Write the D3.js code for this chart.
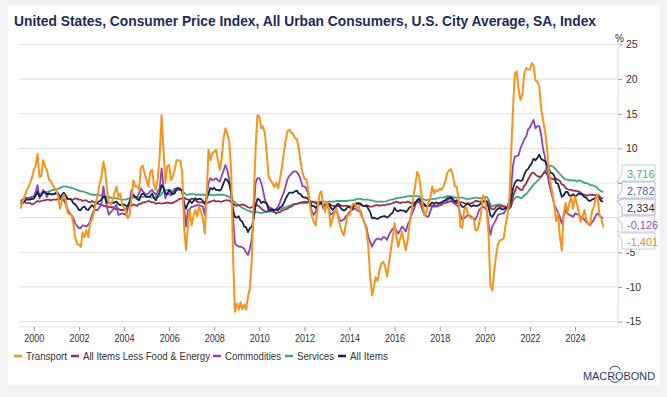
<!DOCTYPE html>
<html>
<head>
<meta charset="utf-8">
<script src="https://cdn.jsdelivr.net/npm/d3@7"></script>
<style>
  html, body { margin: 0; padding: 0; background: #f2f2f2; }
  svg { display: block; }
  text { font-family: "Liberation Sans Narrow", "Arial Narrow", "Liberation Sans", Arial, sans-serif; }
</style>
</head>
<body>
<svg id="chart" width="667" height="397"></svg>
<script>
// monthly y/y % changes, first point June 1999, last point April 2025
const firstMonth = new Date(1999, 5, 1);

const transport = [
  1.3, 2.2, 3.0, 3.8, 4.3, 5.0, 5.7,
  6.9, 7.5, 9.2, 5.9, 6.0, 8.3, 7.4, 6.9, 5.5, 5.3, 4.7, 4.3,
  4.0, 3.0, 1.3, 2.5, 3.3, 2.5, 0.7, 0.5, 0.4, -0.8, -2.8, -3.8,
  -3.9, -4.2, -2.2, -2.8, -1.8, -2.8, -0.8, -0.3, 0.8, 2.1, 3.3, 4.8,
  5.9, 8.1, 6.9, 4.0, 2.1, 1.9, 2.5, 3.5, 4.5, 3.0, 3.5, 1.9,
  1.4, 0.9, -0.1, 0.4, 2.8, 5.4, 4.5, 4.5, 4.0, 7.2, 7.5, 6.3,
  5.4, 4.5, 6.6, 6.9, 4.7, 4.0, 5.7, 8.8, 14.8, 9.8, 5.0, 7.4,
  7.6, 5.4, 6.0, 6.9, 8.3, 8.3, 8.2, 6.5, -1.3, -4.7, -1.3, 1.1,
  -1.1, 0.4, 1.1, 0.2, 1.6, 0.8, -0.1, -2.3, 3.0, 9.8, 8.3, 9.3,
  9.5, 9.8, 8.3, 6.9, 8.5, 11.5, 12.9, 12.1, 10.9, 7.0, -5.5, -13.6,
  -12.4, -13.3, -12.2, -13.2, -12.5, -13.3, -11.4, -10.2, -6.1, 2.5, 9.8, 14.8,
  14.6, 12.9, 13.2, 12.1, 9.3, 5.9, 5.4, 5.0, 4.4, 5.0, 4.2, 5.6,
  7.2, 9.3, 11.0, 12.5, 12.7, 12.3, 12.1, 11.5, 11.3, 10.0, 8.0, 6.5,
  5.6, 5.5, 4.2, 1.8, 0.2, -0.6, -1.1, 1.2, 3.3, 3.8, 1.8, 0.8,
  2.3, 1.1, -1.3, -0.1, 0.6, 1.3, 0.1, -1.2, -2.0, -2.6, -1.0, 0.5,
  0.3, 1.5, 2.0, 2.0, 1.3, 1.6, 0.4, -0.1, -0.8, -1.8, -4.2, -8.5,
  -11.2, -10.0, -8.6, -9.1, -7.6, -6.6, -6.4, -7.1, -8.5, -6.6, -4.7, -2.8,
  -0.8, -2.8, -4.2, -3.0, -2.0, -3.5, -4.7, -3.2, -0.8, 0.9, 3.0, 4.7,
  6.6, 6.0, 4.0, 1.8, 0.3, 0.9, 2.1, 2.8, 4.5, 3.5, 4.0, 3.8,
  4.2, 4.0, 4.5, 5.2, 6.4, 6.8, 7.0, 6.2, 4.5, 4.5, 2.8, -1.3,
  -1.5, 1.1, 1.6, 0.6, 0.1, -0.1, 0.0, -1.8, -1.8, -0.9, 0.6, 3.2,
  2.8, 1.1, -2.3, -9.8, -10.5, -7.8, -5.5, -3.8, -3.3, -3.2, -3.0, -1.2,
  0.3, 2.6, 9.0, 15.5, 20.8, 21.1, 18.5, 17.0, 17.8, 20.8, 21.6, 21.4,
  21.4, 22.3, 22.0, 19.8, 19.6, 19.0, 15.8, 14.1, 12.6, 10.5, 7.0, 5.0,
  3.5, 1.6, -0.5, 0.6, -2.8, -4.7, 0.5, 2.1, 0.8, 2.1, 3.0, 1.3,
  3.0, 2.0, 0.8, -0.6, 0.1, 1.1, -0.3, -0.8, -1.0, 0.8, 1.6, 2.8,
  3.3, 0.2, 0.0, -1.401
];

const core = [
  2.1, 2.1, 2.3, 2.1, 2.1, 2.1, 1.9,
  2.0, 2.2, 2.4, 2.3, 2.4, 2.5, 2.5, 2.6, 2.6, 2.5, 2.6, 2.6,
  2.6, 2.7, 2.7, 2.6, 2.5, 2.7, 2.7, 2.7, 2.6, 2.6, 2.8, 2.7,
  2.6, 2.6, 2.4, 2.5, 2.5, 2.3, 2.2, 2.4, 2.2, 2.2, 2.0, 1.9,
  1.9, 1.7, 1.7, 1.5, 1.6, 1.5, 1.5, 1.3, 1.2, 1.3, 1.1, 1.1,
  1.1, 1.2, 1.6, 1.8, 1.7, 1.9, 1.8, 1.7, 2.0, 2.0, 2.2, 2.2,
  2.3, 2.4, 2.3, 2.2, 2.2, 2.0, 2.1, 2.1, 2.0, 2.1, 2.1, 2.2,
  2.1, 2.1, 2.1, 2.3, 2.4, 2.6, 2.7, 2.8, 2.9, 2.7, 2.6, 2.6,
  2.7, 2.7, 2.5, 2.3, 2.2, 2.2, 2.2, 2.1, 2.1, 2.2, 2.3, 2.4,
  2.5, 2.3, 2.4, 2.3, 2.3, 2.4, 2.5, 2.5, 2.5, 2.2, 2.0, 1.8,
  1.7, 1.8, 1.8, 1.9, 1.8, 1.7, 1.5, 1.4, 1.5, 1.7, 1.7, 1.8,
  1.6, 1.3, 1.1, 0.9, 0.9, 0.9, 0.9, 0.9, 0.8, 0.6, 0.8, 0.8,
  1.0, 1.1, 1.2, 1.3, 1.5, 1.6, 1.8, 2.0, 2.0, 2.1, 2.2, 2.2,
  2.3, 2.2, 2.3, 2.3, 2.3, 2.2, 2.1, 1.9, 2.0, 2.0, 1.9, 1.9,
  1.9, 2.0, 1.9, 1.7, 1.7, 1.6, 1.7, 1.8, 1.7, 1.7, 1.7, 1.7,
  1.6, 1.6, 1.7, 1.8, 2.0, 1.9, 1.9, 1.7, 1.7, 1.8, 1.7, 1.6,
  1.6, 1.7, 1.8, 1.8, 1.7, 1.8, 1.8, 1.8, 1.9, 1.9, 2.0, 2.1,
  2.2, 2.3, 2.2, 2.1, 2.2, 2.2, 2.2, 2.3, 2.2, 2.1, 2.1, 2.2,
  2.3, 2.2, 2.0, 1.9, 1.7, 1.7, 1.7, 1.7, 1.7, 1.8, 1.7, 1.8,
  1.8, 1.8, 2.1, 2.1, 2.2, 2.3, 2.4, 2.2, 2.2, 2.1, 2.2, 2.2,
  2.2, 2.1, 2.0, 2.1, 2.0, 2.1, 2.2, 2.4, 2.4, 2.3, 2.3, 2.3,
  2.3, 2.4, 2.1, 1.4, 1.2, 1.2, 1.6, 1.7, 1.7, 1.6, 1.6, 1.6,
  1.4, 1.3, 1.6, 3.0, 3.8, 4.5, 4.3, 4.0, 4.0, 4.6, 4.9, 5.5,
  6.0, 6.4, 6.5, 6.2, 6.0, 5.9, 5.9, 6.3, 6.6, 6.3, 6.0, 5.7,
  5.6, 5.5, 5.6, 5.5, 5.3, 4.8, 4.7, 4.3, 4.1, 4.0, 4.0, 3.9,
  3.9, 3.8, 3.8, 3.6, 3.4, 3.3, 3.2, 3.2, 3.3, 3.3, 3.3, 3.2,
  3.3, 3.1, 2.8, 2.782
];

const commodities = [
  2.3, 2.5, 2.8, 2.9, 2.8, 2.9, 3.0,
  3.0, 3.8, 4.7, 2.8, 3.3, 4.0, 3.6, 3.0, 3.5, 3.4, 3.3, 3.4,
  3.5, 3.2, 2.8, 3.0, 2.6, 1.9, 1.2, 0.7, 0.4, -0.1, -0.8, -1.2,
  -1.5, -1.5, -1.1, -1.2, -1.3, -1.0, -0.6, 0.4, 1.1, 1.1, 1.1, 1.5,
  1.9, 4.5, 2.8, 1.5, 0.4, 0.8, 1.1, 1.5, 1.9, 0.4, 0.5, 0.6,
  0.5, 0.4, 1.2, 2.1, 4.0, 3.0, 3.0, 3.0, 3.5, 4.2, 3.8, 3.5,
  3.3, 3.5, 3.8, 4.0, 3.6, 3.3, 3.8, 4.2, 7.1, 4.5, 2.8, 3.5,
  3.4, 3.2, 3.6, 4.2, 4.0, 4.0, 4.1, 3.8, 1.6, -1.3, 1.1, 1.2,
  1.6, 1.6, 1.7, 1.8, 1.8, 1.7, 1.6, 0.4, 3.2, 5.0, 5.7, 5.4,
  5.5, 5.7, 5.4, 5.2, 6.0, 6.8, 7.6, 6.8, 5.5, 3.5, 0.1, -3.7,
  -4.0, -4.2, -4.2, -4.3, -4.5, -5.0, -5.4, -4.5, -3.0, 0.5, 5.0, 5.7,
  5.7, 5.0, 4.0, 2.6, 2.0, 1.6, 1.4, 1.3, 1.1, 1.2, 1.6, 2.2,
  3.0, 3.6, 4.5, 5.5, 6.0, 6.3, 6.6, 6.7, 6.6, 6.2, 5.5, 4.5,
  4.5, 4.2, 3.5, 2.0, 0.9, 0.4, 0.8, 1.8, 2.3, 2.3, 1.3, 1.5,
  1.8, 1.2, 0.4, 0.6, 0.9, 1.1, 0.3, -0.5, -0.4, -0.3, 0.2, 0.4,
  0.8, 1.1, 1.2, 1.3, 1.1, 0.9, 0.9, -0.1, -0.8, -1.3, -2.8, -3.5,
  -4.2, -3.6, -3.2, -3.0, -3.1, -3.2, -2.8, -2.9, -3.2, -2.5, -2.0, -1.6,
  -1.5, -1.9, -2.3, -1.8, -1.3, -1.6, -2.0, -1.0, -0.5, 0.4, 1.0, 1.8,
  2.5, 2.8, 1.8, 1.0, 0.4, 0.2, 0.1, 0.9, 1.6, 1.6, 1.6, 1.6,
  1.8, 1.9, 2.1, 2.1, 2.5, 2.7, 2.8, 2.3, 2.0, 1.8, 1.6, 0.4,
  -0.3, -0.1, 0.1, 0.4, 0.3, 0.1, -0.1, -0.3, 0.3, 1.1, 1.4, 1.6,
  1.4, 1.1, -0.9, -2.5, -1.3, -0.8, -0.3, 0.4, 0.5, 0.6, 0.6, 1.0,
  1.6, 2.5, 4.0, 7.5, 8.8, 8.9, 9.0, 10.0, 10.7, 11.3, 11.7, 12.7,
  13.0, 13.6, 14.1, 12.9, 13.2, 13.2, 12.0, 10.0, 8.8, 7.0, 5.2, 4.0,
  3.0, 1.8, 1.3, 0.8, 0.1, -0.9, 0.3, 1.1, 0.6, 0.4, 0.3, 0.1,
  0.6, 0.5, 0.4, 0.1, 0.0, -0.3, -0.6, -0.9, -1.1, -0.7, -0.3, 0.3,
  0.6, 0.3, 0.1, -0.126
];

const services = [
  2.5, 2.6, 2.7, 2.8, 2.8, 2.9, 3.0,
  3.1, 3.3, 3.4, 3.4, 3.5, 3.6, 3.6, 3.7, 3.8, 3.9, 4.0, 4.0,
  4.1, 4.2, 4.3, 4.4, 4.5, 4.5, 4.4, 4.4, 4.3, 4.2, 4.1, 4.0,
  3.9, 3.8, 3.8, 3.7, 3.6, 3.5, 3.4, 3.3, 3.3, 3.3, 3.3, 3.2,
  3.2, 3.2, 3.1, 3.0, 3.0, 2.9, 2.8, 2.8, 2.8, 2.7, 2.7, 2.6,
  2.6, 2.6, 2.7, 2.8, 2.9, 2.9, 2.9, 2.9, 2.9, 3.0, 3.0, 3.0,
  3.0, 3.0, 2.9, 2.9, 2.9, 3.0, 3.0, 3.1, 3.4, 3.8, 3.9, 4.0,
  4.0, 3.9, 3.8, 3.8, 3.9, 4.0, 4.0, 3.9, 3.6, 3.3, 3.3, 3.4,
  3.4, 3.4, 3.3, 3.3, 3.3, 3.3, 3.3, 3.3, 3.3, 3.3, 3.3, 3.3,
  3.2, 3.3, 3.3, 3.3, 3.3, 3.3, 3.2, 3.1, 3.0, 2.8, 2.5, 2.2,
  2.0, 1.8, 1.6, 1.4, 1.3, 1.1, 1.0, 0.9, 0.8, 0.8, 0.8, 0.8,
  0.7, 0.7, 0.7, 0.8, 0.8, 0.9, 1.0, 1.0, 1.1, 1.1, 1.2, 1.2,
  1.3, 1.4, 1.5, 1.6, 1.7, 1.8, 1.9, 1.9, 2.0, 2.0, 2.1, 2.1,
  2.1, 2.1, 2.2, 2.3, 2.3, 2.3, 2.3, 2.2, 2.2, 2.3, 2.3, 2.3,
  2.3, 2.3, 2.3, 2.3, 2.3, 2.4, 2.4, 2.4, 2.4, 2.4, 2.4, 2.4,
  2.5, 2.5, 2.5, 2.6, 2.7, 2.7, 2.7, 2.6, 2.6, 2.6, 2.6, 2.5,
  2.5, 2.4, 2.3, 2.3, 2.3, 2.3, 2.3, 2.3, 2.4, 2.5, 2.6, 2.6,
  2.7, 2.8, 2.8, 2.9, 2.9, 3.0, 3.0, 3.1, 3.1, 3.1, 3.1, 3.1,
  3.1, 3.1, 2.9, 2.7, 2.6, 2.5, 2.6, 2.6, 2.7, 2.7, 2.7, 2.8,
  2.9, 2.9, 2.9, 3.0, 3.1, 3.1, 3.1, 3.0, 2.9, 2.9, 2.9, 2.9,
  2.9, 2.8, 2.7, 2.7, 2.7, 2.8, 2.8, 2.9, 2.9, 2.8, 2.8, 2.9,
  3.0, 3.0, 2.6, 1.9, 1.6, 1.8, 1.8, 1.9, 1.9, 1.8, 1.7, 1.6,
  1.5, 1.4, 1.6, 2.5, 2.8, 3.0, 3.0, 2.8, 2.9, 3.2, 3.4, 3.7,
  4.1, 4.4, 4.8, 5.0, 5.3, 5.6, 5.9, 6.3, 6.8, 7.1, 7.4, 7.5,
  7.4, 7.2, 6.9, 6.6, 6.3, 6.0, 5.7, 5.5, 5.5, 5.4, 5.4, 5.3,
  5.4, 5.2, 5.4, 5.3, 5.2, 5.0, 5.0, 4.9, 4.7, 4.7, 4.6, 4.5,
  4.2, 4.0, 3.8, 3.716
];

const allItems = [
  2.0, 2.1, 2.3, 2.6, 2.6, 2.6, 2.7,
  2.7, 3.2, 3.8, 3.1, 3.2, 3.7, 3.7, 3.4, 3.5, 3.4, 3.4, 3.4,
  3.7, 3.5, 2.9, 3.3, 3.6, 3.2, 2.7, 2.7, 2.6, 2.1, 1.9, 1.6,
  1.1, 1.1, 1.5, 1.6, 1.2, 1.1, 1.5, 1.8, 1.5, 2.0, 2.2, 2.4,
  2.6, 3.0, 3.0, 2.2, 2.1, 2.1, 2.1, 2.2, 2.3, 2.0, 1.8, 1.9,
  1.9, 1.7, 1.7, 2.3, 3.1, 3.3, 3.0, 2.7, 2.5, 3.2, 3.5, 3.3,
  3.0, 3.0, 3.1, 3.5, 2.8, 2.5, 3.2, 3.6, 4.7, 4.3, 3.5, 3.4,
  4.0, 3.6, 3.4, 3.5, 4.2, 4.3, 4.1, 3.8, 2.1, 1.3, 2.0, 2.5,
  2.1, 2.4, 2.8, 2.6, 2.7, 2.7, 2.4, 2.0, 2.8, 3.5, 4.3, 4.1,
  4.3, 4.0, 4.0, 3.9, 4.2, 5.0, 5.6, 5.4, 4.9, 3.7, 1.1, 0.1,
  0.0, 0.2, -0.4, -0.6, -1.3, -1.4, -2.1, -1.5, -1.3, -0.2, 1.8, 2.7,
  2.6, 2.1, 2.3, 2.2, 2.0, 1.1, 1.2, 1.1, 1.1, 1.2, 1.1, 1.5,
  1.6, 2.1, 2.7, 3.2, 3.6, 3.6, 3.6, 3.8, 3.9, 3.5, 3.4, 3.0,
  2.9, 2.9, 2.7, 2.3, 1.7, 1.7, 1.4, 1.7, 2.0, 2.2, 1.8, 1.7,
  1.6, 2.0, 1.5, 1.1, 1.4, 1.8, 2.0, 1.5, 1.2, 1.0, 1.2, 1.5,
  1.6, 1.1, 1.5, 2.0, 2.1, 2.1, 2.0, 1.7, 1.7, 1.7, 1.3, 0.8,
  -0.1, 0.0, -0.1, -0.2, 0.0, 0.1, 0.2, 0.2, 0.0, 0.2, 0.5, 0.7,
  1.4, 1.0, 0.9, 1.1, 1.0, 1.0, 0.8, 1.1, 1.5, 1.6, 1.7, 2.1,
  2.5, 2.7, 2.4, 2.2, 1.9, 1.6, 1.7, 1.9, 2.2, 2.0, 2.2, 2.1,
  2.1, 2.2, 2.4, 2.5, 2.8, 2.9, 2.9, 2.7, 2.3, 2.5, 2.2, 1.9,
  1.6, 1.5, 1.9, 2.0, 1.8, 1.6, 1.8, 1.7, 1.7, 1.8, 2.1, 2.3,
  2.5, 2.3, 1.5, 0.3, 0.1, 0.6, 1.0, 1.3, 1.4, 1.2, 1.2, 1.4,
  1.4, 1.7, 2.6, 4.2, 5.0, 5.4, 5.4, 5.3, 5.4, 6.2, 6.8, 7.0,
  7.5, 7.9, 8.5, 8.3, 8.6, 9.1, 8.5, 8.3, 8.2, 7.7, 7.1, 6.5,
  6.4, 6.0, 5.0, 4.9, 4.0, 3.0, 3.2, 3.7, 3.7, 3.2, 3.1, 3.4,
  3.1, 3.2, 3.5, 3.4, 3.3, 3.0, 2.9, 2.5, 2.4, 2.6, 2.7, 2.9,
  3.0, 2.8, 2.4, 2.334
];

const seriesNames = ["Transport", "All Items Less Food & Energy", "Commodities", "Services", "All Items"];
const seriesValues = [transport, core, commodities, services, allItems];
const yearTicks = [2000, 2002, 2004, 2006, 2008, 2010, 2012, 2014, 2016, 2018, 2020, 2022, 2024];
const valueTicks = [-15, -10, -5, 0, 5, 10, 15, 20, 25];
// last-value tags on the right, top to bottom: services, core, all items, commodities, transport
const tagSeries = [3, 1, 4, 2, 0];
const tagLabels = ["3,716", "2,782", "2,334", "-0,126", "-1,401"];

// styles
const lineColors = ["#f7941d", "#9c3048", "#8a45b3", "#43a586", "#14244d"];
const tagText = ["#4aa888", "#5565a3", "#1b2a52", "#9150b8", "#f28a26"];
const tagBorder = ["#b2dccb", "#b3bde0", "#a4aecd", "#f2bcc5", "#bcd0ea"];
// legend layout, matched to the reference
const legendSwatchX = [14, 71, 213, 285, 338];
const legendTextW = [41, 127, 56, 37, 38];

const svg = d3.select("#chart");

svg.append("rect")
  .attr("x", 8).attr("y", 5).attr("width", 652).attr("height", 380)
  .attr("fill", "#ffffff");

svg.append("text")
  .attr("x", 14).attr("y", 26)
  .attr("font-size", 15).attr("font-weight", "bold")
  .attr("fill", "#1e2b58")
  .attr("textLength", 582).attr("lengthAdjust", "spacingAndGlyphs")
  .text("United States, Consumer Price Index, All Urban Consumers, U.S. City Average, SA, Index");

const left = 19, right = 618;
const x = d3.scaleTime()
  .domain([new Date(2000, 0, 1), new Date(2024, 0, 1)])
  .range([33.8, 575]);
const y = d3.scaleLinear().domain([-15, 25]).range([321.5, 44.5]);

const dates = transport.map((d, i) => d3.timeMonth.offset(firstMonth, i));

// tag block (needed to hide the tick labels it covers)
const tagH = 17, tagX = 622, tagW = 33;
const lastY = tagSeries.map(k => y(seriesValues[k][seriesValues[k].length - 1]));
const top0 = d3.mean(lastY) - tagH * tagSeries.length / 2;
const bottom0 = top0 + tagH * tagSeries.length;

// gridlines
svg.append("g").selectAll("line")
  .data(valueTicks)
  .join("line")
  .attr("x1", left).attr("x2", right)
  .attr("y1", d => y(d)).attr("y2", d => y(d))
  .attr("stroke", "#e3e3e3").attr("stroke-width", 1.2);

// right axis
const yAxis = svg.append("g")
  .attr("transform", `translate(${right},0)`)
  .call(d3.axisRight(y).tickValues(valueTicks).tickSize(4).tickPadding(4).tickFormat(d => String(d)));
yAxis.select(".domain").remove();
yAxis.selectAll(".tick line").attr("stroke", "#9a9a9a");
yAxis.selectAll(".tick text")
  .attr("font-size", 10.5).attr("fill", "#333").attr("font-family", null)
  .filter(d => y(d) > top0 - 4 && y(d) < bottom0 - 2).remove();
svg.append("line")
  .attr("x1", right).attr("x2", right).attr("y1", 40).attr("y2", 327)
  .attr("stroke", "#dcdcdc");
svg.append("text")
  .attr("x", 615).attr("y", 42)
  .attr("font-size", 10).attr("fill", "#333")
  .text("%");

// bottom axis
svg.append("line")
  .attr("x1", left).attr("x2", right).attr("y1", 327).attr("y2", 327)
  .attr("stroke", "#e3e3e3");
const xAxis = svg.append("g")
  .attr("transform", "translate(0,327)")
  .call(d3.axisBottom(x)
    .tickValues(yearTicks.map(yr => new Date(yr, 0, 1)))
    .tickFormat(d3.timeFormat("%Y"))
    .tickSize(4).tickPadding(4));
xAxis.select(".domain").remove();
xAxis.selectAll(".tick line").attr("stroke", "#9a9a9a");
xAxis.selectAll(".tick text")
  .attr("font-size", 10.5).attr("fill", "#333").attr("font-family", null)
  .attr("textLength", 20).attr("lengthAdjust", "spacingAndGlyphs");

// lines
const line = d3.line()
  .x((d, i) => x(dates[i]))
  .y(d => y(d));
const drawOrder = [3, 1, 2, 4, 0];
svg.append("g").selectAll("path")
  .data(drawOrder)
  .join("path")
  .attr("d", k => line(seriesValues[k]))
  .attr("fill", "none")
  .attr("stroke", k => lineColors[k])
  .attr("stroke-width", k => k === 0 ? 2 : 1.8)
  .attr("stroke-linejoin", "round");

// last value tags
svg.append("g").selectAll("g")
  .data(tagSeries)
  .join("g")
  .each(function (k, j) {
    const g = d3.select(this);
    const t = top0 + j * tagH, b = t + tagH - 1;
    const vy = lastY[j];
    const py = Math.max(t + 4, Math.min(b - 4, vy));
    const tipY = Math.max(t - 2, Math.min(b + 2, vy));
    g.append("path")
      .attr("d", `M${tagX},${t} H${tagX + tagW} V${b} H${tagX} V${py + 4} L${tagX - 5},${tipY} L${tagX},${py - 4} Z`)
      .attr("fill", "#fff")
      .attr("stroke", tagBorder[j]);
    g.append("text")
      .attr("x", tagX + 5).attr("y", t + tagH / 2 + 4)
      .attr("font-size", 11).attr("fill", tagText[j])
      .text(tagLabels[j]);
  });

// legend
const ly = 356;
seriesNames.forEach((name, k) => {
  const sx = legendSwatchX[k];
  svg.append("line")
    .attr("x1", sx).attr("x2", sx + 8).attr("y1", ly).attr("y2", ly)
    .attr("stroke", lineColors[k]).attr("stroke-width", 2.5);
  svg.append("text")
    .attr("x", sx + 12).attr("y", ly + 4)
    .attr("font-size", 11).attr("fill", "#333")
    .attr("textLength", legendTextW[k]).attr("lengthAdjust", "spacingAndGlyphs")
    .text(name);
});

// logo
svg.append("text")
  .attr("x", 583).attr("y", 380)
  .attr("font-size", 10.5).attr("fill", "#2a3a66")
  .attr("font-family", "'Liberation Sans', Arial, sans-serif")
  .attr("textLength", 72).attr("lengthAdjust", "spacingAndGlyphs")
  .text("MACROBOND");
svg.append("path")
  .attr("d", "M609.5,370 A6,6.5 0 0 1 620.5,370 M609.5,378.5 A6,6.5 0 0 0 620.5,378.5")
  .attr("fill", "none").attr("stroke", "#2a3a66").attr("stroke-width", 0.9);
</script>
</body>
</html>
